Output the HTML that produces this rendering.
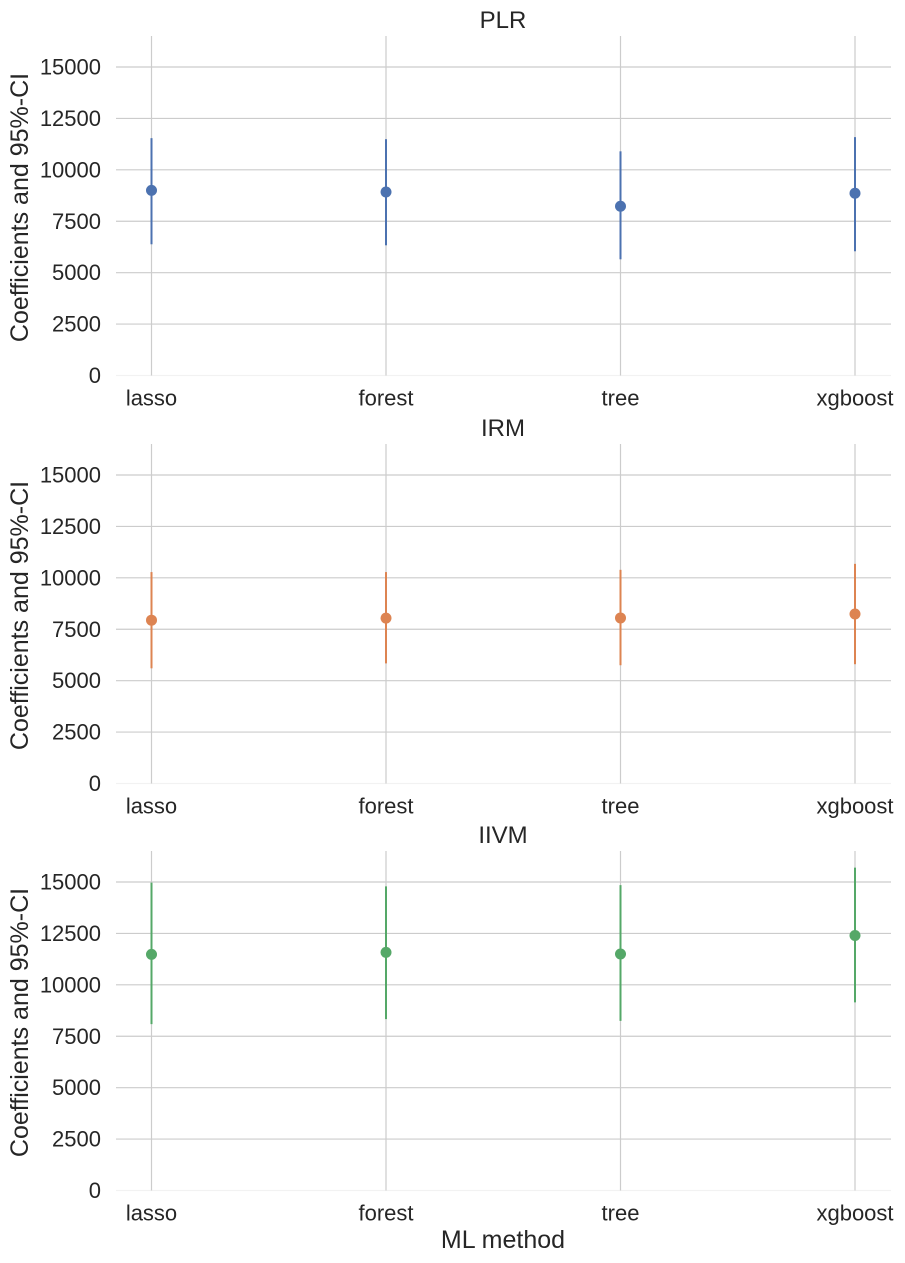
<!DOCTYPE html>
<html><head><meta charset="utf-8"><style>
body{margin:0;background:#fff;}
svg{display:block;font-family:"Liberation Sans","DejaVu Sans",sans-serif;}
</style></head><body>
<svg id="chart" width="905" height="1263"></svg>
<script>
const categories = ["lasso","forest","tree","xgboost"];
const panelTitles = ["PLR","IRM","IIVM"];
const yTicks = [0,2500,5000,7500,10000,12500,15000];
const plrCoef = [9000,8920,8230,8860];
const plrLower = [6380,6330,5650,6040];
const plrUpper = [11540,11490,10900,11590];
const irmCoef = [7940,8040,8050,8240];
const irmLower = [5600,5840,5750,5800];
const irmUpper = [10280,10280,10390,10680];
const iivmCoef = [11480,11580,11500,12400];
const iivmLower = [8090,8330,8250,9150];
const iivmUpper = [14970,14790,14850,15700];

const colors = ["#4c72b0","#dd8452","#55a868"];
const series = [[plrCoef,plrLower,plrUpper],[irmCoef,irmLower,irmUpper],[iivmCoef,iivmLower,iivmUpper]];
const NS="http://www.w3.org/2000/svg";
const svg=document.getElementById('chart');
function mk(tag,attrs,parent){const e=document.createElementNS(NS,tag);for(const k in attrs)e.setAttribute(k,attrs[k]);(parent||svg).appendChild(e);return e;}
const left=116,right=891,x0=151.5,x1=855;
function xScale(i){return x0+(x1-x0)*i/(categories.length-1);}
const panelZero=[375.5,783.5,1190.5];
const pxPer=308.5/15000;
panelTitles.forEach((t,p)=>{
  const z=panelZero[p];
  const yS=v=>z-v*pxPer;
  const top=z-339.5;
  const g=mk('g',{});
  
  
  yTicks.forEach(v=>{
    const l=mk('line',{x1:left,x2:right,y1:yS(v),y2:yS(v),stroke:v===0?'#f2f2f2':'#cccccc','stroke-width':1.2},g);
    
    
    const tx=mk('text',{x:101,y:yS(v)+7.5,'text-anchor':'end','font-size':22,fill:'#262626'},g);
    tx.textContent=v;
    
    
  });
  categories.forEach((c,i)=>{
    const l=mk('line',{x1:xScale(i),x2:xScale(i),y1:top,y2:z,stroke:'#cccccc','stroke-width':1.2},g);
    
    
    const tx=mk('text',{x:xScale(i),y:z+30,'text-anchor':'middle','font-size':22,fill:'#262626'},g);
    tx.textContent=c;
    
    
  });
  const [coef,lo,hi]=series[p];
  categories.forEach((c,i)=>{
    const l=mk('line',{x1:xScale(i),x2:xScale(i),y1:yS(lo[i]),y2:yS(hi[i]),stroke:colors[p],'stroke-width':2},g);
    
    
    const d=mk('circle',{cx:xScale(i),cy:yS(coef[i]),r:5.5,fill:colors[p]},g);
    
    
  });
  const tt=mk('text',{x:503,y:top-8,'text-anchor':'middle','font-size':24,fill:'#262626'},g);
  tt.textContent=t;
  
  
  const yc=z-168;
  const yl=mk('text',{x:0,y:0,transform:'translate(28,'+yc+') rotate(-90)','text-anchor':'middle','font-size':25,fill:'#262626'},g);
  yl.textContent='Coefficients and 95%-CI';
  
  
});
const xl=mk('text',{x:503,y:1248,'text-anchor':'middle','font-size':25,fill:'#262626'});
xl.textContent='ML method';


</script>
</body></html>
